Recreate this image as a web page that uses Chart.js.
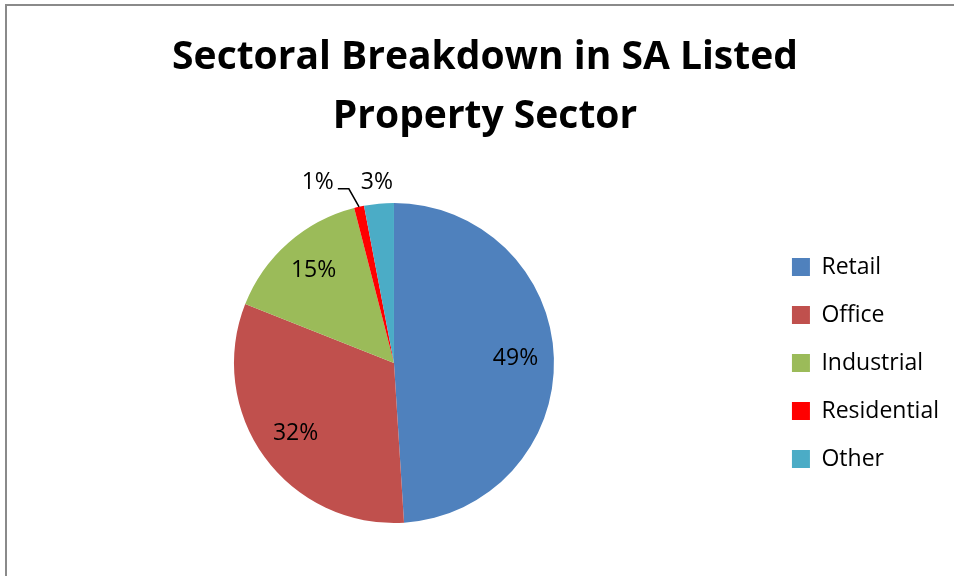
<!DOCTYPE html>
<html>
<head>
<meta charset="utf-8">
<title>Sectoral Breakdown in SA Listed Property Sector</title>
<script src="https://cdn.jsdelivr.net/npm/chart.js@4.4.1/dist/chart.umd.min.js"></script>
<style>
    html, body { margin: 0; padding: 0; background: #fff; }
    #wrap { position: absolute; left: 0; top: 0; width: 954px; height: 576px; overflow: hidden; }
    #frame {
        position: absolute; left: 5px; top: 4px; width: 1000px; height: 620px;
        border: 2px solid #8a8a8a; box-sizing: border-box;
    }
    #chart-container { position: absolute; left: 0; top: 0; width: 966px; height: 576px; }
</style>
</head>
<body>
<div id="wrap">
    <div id="frame"></div>
    <div id="chart-container"><canvas id="sectorChart"></canvas></div>
</div>
<script>
const sectors = ["Retail", "Office", "Industrial", "Residential", "Other"];
const shares = [49, 32, 15, 1, 3];
const sectorColors = ["#4F81BD", "#C0504D", "#9BBB59", "#FF0000", "#4BACC6"];
const titleLines = ["Sectoral Breakdown in SA Listed", "Property Sector"];

const labelFont = "23px 'Open Sans', 'Noto Sans', sans-serif";

// Percentage labels: big slices inside, small ones outside (with a leader if shifted)
const sliceLabels = {
    id: "sliceLabels",
    afterDatasetsDraw(chart) {
        const ctx = chart.ctx;
        const arcs = chart.getDatasetMeta(0).data;
        const values = chart.data.datasets[0].data;
        const total = values.reduce((a, b) => a + b, 0);

        ctx.save();
        ctx.font = labelFont;
        ctx.fillStyle = "#000";
        ctx.textAlign = "center";
        ctx.textBaseline = "middle";

        let nextLeft = null, nextY = null;
        // walk backwards so outer labels near the top know their right-hand neighbour
        for (let i = arcs.length - 1; i >= 0; i--) {
            const a = arcs[i].getProps(["x", "y", "startAngle", "endAngle", "outerRadius"], true);
            const pct = values[i] / total;
            const text = Math.round(pct * 100) + "%";
            const mid = (a.startAngle + a.endAngle) / 2;
            const w = ctx.measureText(text).width;

            if (pct >= 0.05) {
                const r = a.outerRadius * 0.76;
                ctx.fillText(text, a.x + r * Math.cos(mid), a.y + r * Math.sin(mid) - 1);
                nextLeft = null;
                continue;
            }

            const r = a.outerRadius + 21;
            let lx = a.x + r * Math.cos(mid);
            let ly = a.y + r * Math.sin(mid);
            if (nextLeft !== null && lx + w / 2 > nextLeft - 4) {
                lx = nextLeft - 27 - w / 2;
                ly = nextY;
                // leader from the label to the slice edge
                const ex = a.x + a.outerRadius * Math.cos(mid);
                const ey = a.y + a.outerRadius * Math.sin(mid);
                ctx.strokeStyle = "#000";
                ctx.lineWidth = 1.5;
                ctx.beginPath();
                ctx.moveTo(lx + w / 2 + 4, ly + 6);
                ctx.lineTo(lx + w / 2 + 15, ly + 6);
                ctx.lineTo(ex, ey);
                ctx.stroke();
            }
            ctx.fillText(text, lx, ly);
            nextLeft = lx - w / 2;
            nextY = ly;
        }
        ctx.restore();
    }
};

const ctx = document.getElementById("sectorChart").getContext("2d");
new Chart(ctx, {
    type: "pie",
    data: {
        labels: sectors,
        datasets: [{
            data: shares,
            backgroundColor: sectorColors,
            borderWidth: 0
        }]
    },
    options: {
        responsive: true,
        maintainAspectRatio: false,
        animation: false,
        layout: { padding: { top: 0, left: 21, right: 17, bottom: 53 } },
        plugins: {
            title: {
                display: true,
                text: titleLines,
                color: "#000",
                font: { family: "'Open Sans', 'Noto Sans', sans-serif", size: 39, weight: "bold", lineHeight: 1.5 },
                padding: { top: 29, bottom: 57 }
            },
            legend: {
                display: true,
                position: "right",
                fullSize: false,
                labels: {
                    color: "#000",
                    font: { family: "'Open Sans', 'Noto Sans', sans-serif", size: 23 },
                    boxWidth: 18,
                    boxHeight: 18,
                    padding: 25
                }
            },
            tooltip: { enabled: false }
        }
    },
    plugins: [sliceLabels]
});
</script>
</body>
</html>
